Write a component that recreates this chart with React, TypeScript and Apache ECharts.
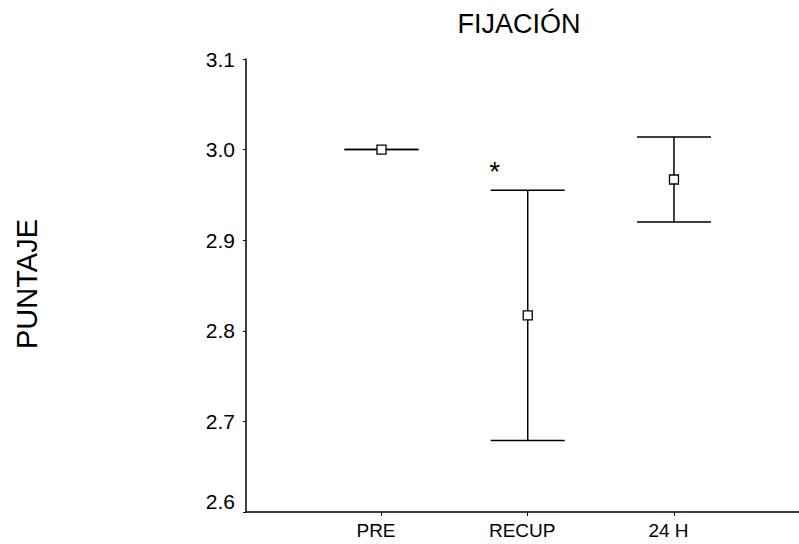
import React, { useEffect, useRef } from "react";
import * as echarts from "echarts";

const categories = ["PRE", "RECUP", "24 H"];
const means = [3.0, 2.817, 2.967];
const lowers = [3.0, 2.679, 2.92];
const uppers = [3.0, 2.955, 3.014];
const marks = ["", "*", ""];
const yTicks = [2.6, 2.7, 2.8, 2.9, 3.0, 3.1];

export default function App() {
  const ref = useRef<HTMLDivElement>(null);
  useEffect(() => {
    if (!ref.current) return;
    const chart = echarts.init(ref.current, null, { renderer: "svg" });
    const data = categories.map((c, i) => [i + 1, means[i], lowers[i], uppers[i]]);
    chart.setOption({
      animation: false,
      backgroundColor: "#ffffff",
      graphic: [
        {
          type: "text",
          x: 519,
          y: 24,
          style: {
            text: "FIJACIÓN",
            fontFamily: "Liberation Sans, Arial, sans-serif",
            fontSize: 27,
            fill: "#000",
            align: "center",
            verticalAlign: "middle",
          },
        },
        {
          type: "text",
          x: 27,
          y: 284,
          rotation: Math.PI / 2,
          style: {
            text: "PUNTAJE",
            fontFamily: "Liberation Sans, Arial, sans-serif",
            fontSize: 29,
            fill: "#000",
            align: "center",
            verticalAlign: "middle",
          },
        },
      ],
      grid: { left: 246, right: 0, top: 59, bottom: 32 },
      xAxis: {
        type: "value",
        min: 0.0735,
        max: 3.855,
        axisLine: { show: true, onZero: false, lineStyle: { color: "#000", width: 1.5 } },
        axisTick: { show: true, customValues: [1, 2, 3], length: 4, lineStyle: { color: "#000", width: 1 } },
        axisLabel: {
          customValues: [1, 2, 3],
          formatter: (v: number) => categories[Math.round(v) - 1] ?? "",
          fontFamily: "Liberation Sans, Arial, sans-serif",
          fontSize: 19,
          color: "#000",
          margin: 9,
          padding: [0, 11, 0, 0],
        },
        splitLine: { show: false },
      },
      yAxis: {
        type: "value",
        min: 2.6,
        max: 3.1,
        interval: 0.1,
        axisLine: { show: true, lineStyle: { color: "#000", width: 1.5 } },
        axisTick: { show: true, length: 3, lineStyle: { color: "#000", width: 1 } },
        axisLabel: {
          formatter: (v: number) => {
            const m = yTicks.find((t) => Math.abs(t - v) < 1e-6);
            return m !== undefined ? m.toFixed(1) : "";
          },
          fontFamily: "Liberation Sans, Arial, sans-serif",
          fontSize: 21,
          color: "#000",
          margin: 11,
          verticalAlignMinLabel: "bottom",
        },
        splitLine: { show: false },
      },
      series: [
        {
          type: "custom",
          data,
          renderItem: (params: any, api: any) => {
            const x = api.value(0);
            const m = api.value(1);
            const lo = api.value(2);
            const hi = api.value(3);
            const pm = api.coord([x, m]);
            const pl = api.coord([x, lo]);
            const ph = api.coord([x, hi]);
            const hw = 37;
            const ls = { stroke: "#000", lineWidth: 1.5 };
            const children: any[] = [
              { type: "line", shape: { x1: ph[0], y1: ph[1], x2: pl[0], y2: pl[1] }, style: ls },
              { type: "line", shape: { x1: ph[0] - hw, y1: ph[1], x2: ph[0] + hw, y2: ph[1] }, style: ls },
              { type: "line", shape: { x1: pl[0] - hw, y1: pl[1], x2: pl[0] + hw, y2: pl[1] }, style: ls },
              {
                type: "rect",
                shape: { x: pm[0] - 4.5, y: pm[1] - 4.5, width: 9, height: 9 },
                style: { fill: "#fff", stroke: "#000", lineWidth: 1.3 },
              },
            ];
            const mk = marks[params.dataIndex];
            if (mk) {
              children.push({
                type: "text",
                x: ph[0] - 33,
                y: ph[1] - 19,
                style: {
                  text: mk,
                  fontFamily: "Liberation Sans, Arial, sans-serif",
                  fontSize: 28,
                  fill: "#000",
                  align: "center",
                  verticalAlign: "middle",
                },
              });
            }
            return { type: "group", children };
          },
        },
      ],
    });
    return () => chart.dispose();
  }, []);
  return (
    <div
      ref={ref}
      style={{ position: "fixed", left: 0, top: 0, width: 799, height: 544, background: "#fff" }}
    />
  );
}
